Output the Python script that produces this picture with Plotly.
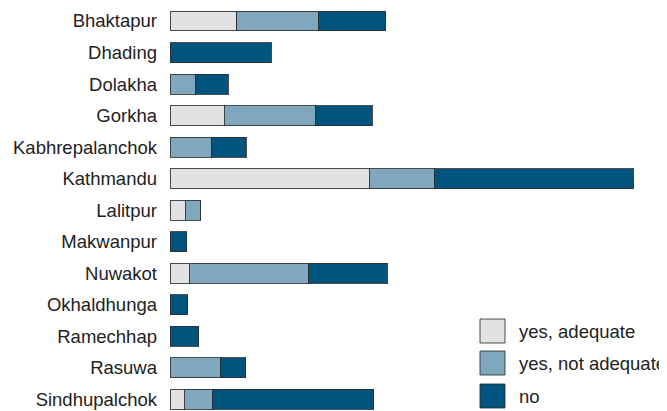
import plotly.graph_objects as go

districts = ["Bhaktapur", "Dhading", "Dolakha", "Gorkha", "Kabhrepalanchok", "Kathmandu",
             "Lalitpur", "Makwanpur", "Nuwakot", "Okhaldhunga", "Ramechhap", "Rasuwa",
             "Sindhupalchok"]
series_names = ["yes, adequate", "yes, not adequate", "no"]
yes_adequate = [20.0, 0, 0, 16.3, 0, 59.8, 4.5, 0, 5.8, 0, 0, 0, 4.2]
yes_not_adequate = [24.5, 0, 7.5, 27.2, 12.5, 19.5, 4.5, 0, 35.8, 0, 0, 15.1, 8.5]
no = [20.2, 30.3, 10.0, 17.2, 10.4, 60.0, 0, 5.0, 23.5, 5.3, 8.6, 7.6, 48.4]
colors = ["#e1e2e4", "#7fa8bf", "#02547f"]

fig = go.Figure()
for name, vals, col in zip(series_names, [yes_adequate, yes_not_adequate, no], colors):
    fig.add_trace(go.Bar(
        y=districts, x=vals, name=name, orientation="h",
        marker=dict(color=col, line=dict(color="rgba(45,45,45,0.85)", width=1)),
        showlegend=False,
    ))

# page body has an 8px margin, so the figure is sized/placed to compensate
OFF = 8
W, H = 667 - OFF, 411 - OFF
L = 170 - OFF
plot_w = 464
R = W - L - plot_w
FS = 18.5

fig.update_layout(
    barmode="stack",
    width=W, height=H,
    margin=dict(l=L, r=R, t=0, b=0, pad=0),
    paper_bgcolor="white", plot_bgcolor="white",
    bargap=0.366,
    font=dict(family="Liberation Sans, Arial, sans-serif", size=FS, color="#222"),
    xaxis=dict(range=[0, 139.2], visible=False, showgrid=False, zeroline=False),
    yaxis=dict(categoryorder="array", categoryarray=districts,
               range=[12.365, -0.412], autorange=False,
               showgrid=False, zeroline=False, showline=False, ticks="",
               ticklabelstandoff=12, tickfont=dict(size=FS, color="#222")),
)

# custom legend with large swatches (positions in window pixels)
leg_x0 = 480
leg_y0 = [319, 351, 384]
for name, col, y0 in zip(series_names, colors, leg_y0):
    fig.add_shape(type="rect", xref="paper", yref="paper",
                  x0=(leg_x0 - OFF - L) / plot_w, x1=(leg_x0 + 25 - OFF - L) / plot_w,
                  y0=1 - (y0 + 24 - OFF) / H, y1=1 - (y0 - OFF) / H,
                  fillcolor=col, line=dict(color="rgba(45,45,45,0.85)", width=1))
    fig.add_annotation(xref="paper", yref="paper",
                       x=(519 - OFF - L) / plot_w, y=1 - (y0 + 12 - OFF) / H,
                       text=name, showarrow=False, xanchor="left", yanchor="middle",
                       xshift=-2, font=dict(size=FS, color="#222"))

fig.write_html("out.html")
